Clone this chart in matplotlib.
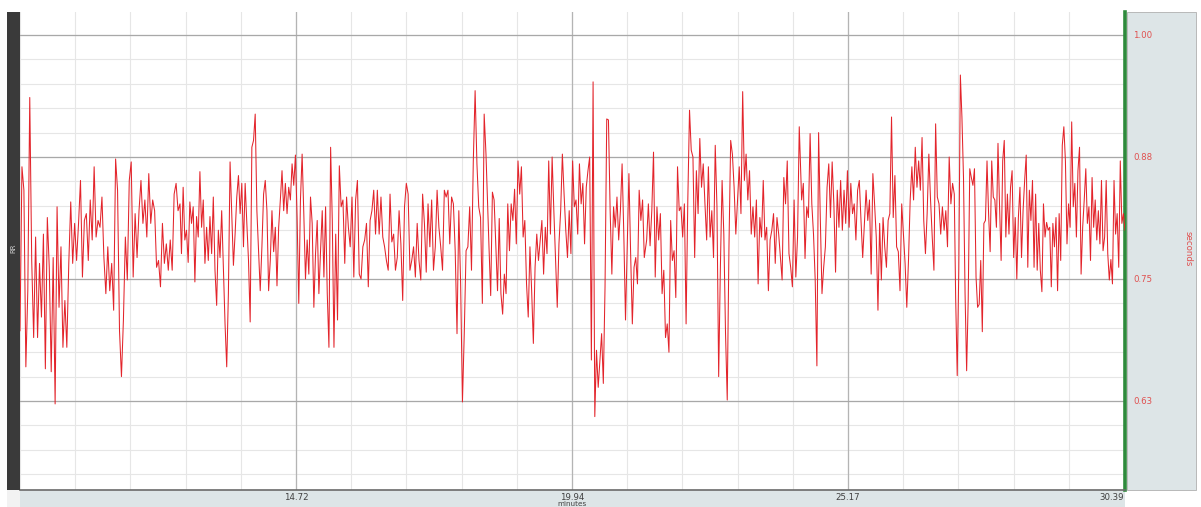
import numpy as np
import matplotlib
matplotlib.use("Agg")
import matplotlib.pyplot as plt
from matplotlib.patches import Rectangle

# ---------------- data (RR interval, seconds) ----------------
seg_bounds = [9.497, 12.525, 12.553, 15.439, 15.472, 18.316, 18.373, 21.312,
              21.357, 24.245, 24.290, 27.179, 27.205, 30.41]

rr_seg1 = [0.697, 0.865, 0.841, 0.66, 0.738, 0.936, 0.769, 0.69, 0.793, 0.69, 0.766, 0.711, 0.796,
           0.658, 0.813, 0.762, 0.655, 0.772, 0.622, 0.824, 0.721, 0.783, 0.68, 0.728, 0.68, 0.766,
           0.829, 0.766, 0.807, 0.769, 0.807, 0.851, 0.752, 0.81, 0.817, 0.769, 0.831, 0.79, 0.865,
           0.793, 0.81, 0.803, 0.834, 0.772, 0.735, 0.783, 0.738, 0.766, 0.718, 0.873, 0.841, 0.697,
           0.65, 0.708, 0.793, 0.749, 0.851, 0.87, 0.752, 0.817, 0.772, 0.82, 0.851, 0.807, 0.831,
           0.793, 0.858, 0.807, 0.831, 0.82, 0.762, 0.769, 0.742, 0.807, 0.766, 0.786, 0.759, 0.79,
           0.759, 0.837, 0.848, 0.82, 0.827]
rr_seg2 = [0.776, 0.844, 0.79, 0.80, 0.767, 0.829, 0.807, 0.824, 0.747, 0.814, 0.793, 0.86, 0.803,
           0.831, 0.766, 0.803, 0.769, 0.814, 0.776, 0.834, 0.759, 0.723, 0.80, 0.772, 0.82, 0.762,
           0.704, 0.66, 0.735, 0.87, 0.817, 0.764, 0.796, 0.834, 0.856, 0.817, 0.848, 0.783, 0.848,
           0.807, 0.769, 0.706, 0.885, 0.892, 0.919, 0.82, 0.779, 0.738, 0.783, 0.837, 0.851, 0.82,
           0.738, 0.769, 0.82, 0.778, 0.803, 0.743, 0.803, 0.831, 0.861, 0.82, 0.848, 0.817, 0.844,
           0.831, 0.868, 0.846, 0.877, 0.813, 0.725, 0.831, 0.878, 0.817, 0.75, 0.79, 0.755, 0.834,
           0.807, 0.721, 0.776, 0.81, 0.735, 0.779, 0.82, 0.752, 0.824, 0.735, 0.68, 0.885, 0.81, 0.68]
rr_seg3 = [0.796, 0.708, 0.866, 0.824, 0.831, 0.766, 0.834, 0.803, 0.783, 0.834, 0.752, 0.831, 0.851,
           0.755, 0.75, 0.783, 0.79, 0.807, 0.742, 0.81, 0.82, 0.841, 0.796, 0.841, 0.796, 0.834,
           0.793, 0.783, 0.769, 0.759, 0.837, 0.788, 0.796, 0.759, 0.772, 0.82, 0.786, 0.728, 0.824,
           0.848, 0.837, 0.759, 0.769, 0.783, 0.752, 0.807, 0.769, 0.749, 0.837, 0.807, 0.757, 0.827,
           0.783, 0.831, 0.759, 0.783, 0.841, 0.803, 0.783, 0.759, 0.841, 0.834, 0.841, 0.786, 0.834,
           0.827, 0.779, 0.694, 0.82, 0.745, 0.624, 0.694, 0.779, 0.783, 0.824, 0.759, 0.871, 0.943,
           0.868, 0.824, 0.813, 0.725, 0.919, 0.878]
rr_seg4 = [0.783, 0.733, 0.839, 0.831, 0.783, 0.738, 0.812, 0.735, 0.714, 0.755, 0.735, 0.827, 0.779,
           0.827, 0.81, 0.842, 0.786, 0.871, 0.837, 0.865, 0.793, 0.81, 0.745, 0.711, 0.783, 0.738,
           0.684, 0.762, 0.796, 0.769, 0.79, 0.81, 0.755, 0.803, 0.776, 0.871, 0.796, 0.875, 0.82,
           0.769, 0.721, 0.786, 0.82, 0.878, 0.837, 0.80, 0.772, 0.82, 0.776, 0.871, 0.824, 0.831,
           0.796, 0.868, 0.827, 0.848, 0.786, 0.844, 0.861, 0.875, 0.667, 0.952, 0.609, 0.677, 0.639,
           0.667, 0.694, 0.643, 0.742, 0.914, 0.913, 0.82, 0.755, 0.824, 0.803, 0.834, 0.79, 0.82,
           0.868, 0.796, 0.708, 0.783, 0.858, 0.776, 0.704, 0.762, 0.772, 0.745, 0.841, 0.81, 0.831,
           0.772]
rr_seg5 = [0.79, 0.827, 0.784, 0.82, 0.88, 0.752, 0.824, 0.79, 0.817, 0.735, 0.759, 0.69, 0.704,
           0.675, 0.81, 0.769, 0.779, 0.731, 0.865, 0.82, 0.824, 0.793, 0.827, 0.704, 0.831, 0.923,
           0.882, 0.875, 0.772, 0.861, 0.817, 0.894, 0.844, 0.868, 0.827, 0.79, 0.865, 0.793, 0.82,
           0.772, 0.887, 0.824, 0.65, 0.762, 0.851, 0.796, 0.694, 0.626, 0.783, 0.892, 0.878, 0.844,
           0.796, 0.831, 0.865, 0.817, 0.942, 0.851, 0.878, 0.831, 0.861, 0.796, 0.824, 0.793, 0.831,
           0.745, 0.813, 0.793, 0.851, 0.79, 0.803, 0.738, 0.79, 0.80, 0.817, 0.766, 0.813, 0.796,
           0.772, 0.749, 0.854, 0.827, 0.871, 0.776, 0.762, 0.742, 0.831, 0.752, 0.793, 0.906]
rr_seg6 = [0.831, 0.848, 0.771, 0.824, 0.813, 0.899, 0.827, 0.796, 0.749, 0.661, 0.90, 0.813, 0.735,
           0.762, 0.783, 0.844, 0.868, 0.813, 0.87, 0.827, 0.757, 0.841, 0.803, 0.851, 0.80, 0.841,
           0.807, 0.861, 0.803, 0.848, 0.817, 0.827, 0.79, 0.841, 0.851, 0.81, 0.772, 0.807, 0.841,
           0.81, 0.831, 0.755, 0.858, 0.827, 0.793, 0.718, 0.807, 0.749, 0.813, 0.783, 0.762, 0.81,
           0.817, 0.916, 0.813, 0.856, 0.783, 0.778, 0.738, 0.827, 0.796, 0.766, 0.721, 0.769, 0.831,
           0.865, 0.831, 0.885, 0.844, 0.871, 0.841, 0.895, 0.81, 0.776, 0.817, 0.878, 0.831, 0.793,
           0.759, 0.909, 0.834, 0.827, 0.796, 0.824, 0.80, 0.82, 0.783, 0.875, 0.827, 0.848, 0.837]
rr_seg7 = [0.731, 0.651, 0.76, 0.959, 0.916, 0.854, 0.735, 0.656, 0.728, 0.863, 0.854, 0.846, 0.863,
           0.752, 0.721, 0.724, 0.769, 0.696, 0.807, 0.81, 0.871, 0.817, 0.778, 0.871, 0.834, 0.831,
           0.803, 0.889, 0.824, 0.769, 0.871, 0.892, 0.793, 0.837, 0.796, 0.844, 0.861, 0.772, 0.813,
           0.75, 0.813, 0.844, 0.772, 0.82, 0.851, 0.877, 0.762, 0.841, 0.81, 0.851, 0.762, 0.837,
           0.759, 0.807, 0.759, 0.737, 0.827, 0.793, 0.808, 0.80, 0.803, 0.742, 0.807, 0.783, 0.813,
           0.738, 0.817, 0.769, 0.887, 0.906, 0.871, 0.786, 0.827, 0.803, 0.911, 0.824, 0.848, 0.793,
           0.861, 0.885, 0.755, 0.803, 0.831, 0.863, 0.807, 0.824, 0.769, 0.854, 0.803, 0.831, 0.79,
           0.82, 0.786, 0.851, 0.779, 0.793, 0.851, 0.776, 0.749, 0.77, 0.745, 0.851, 0.796, 0.817,
           0.762, 0.871, 0.807, 0.817, 0.80]

x_ticks = [14.72, 19.94, 25.17, 30.39]
x_ticklabels = ["14.72", "19.94", "25.17", "30.39"]
y_ticks = [1.0, 0.875, 0.75, 0.625]
y_ticklabels = ["1.00", "0.88", "0.75", "0.63"]
x_label = "minutes"
y_label_left = "RR"
y_label_right = "seconds"

# ---------------- build series ----------------
segs = [rr_seg1, rr_seg2, rr_seg3, rr_seg4, rr_seg5, rr_seg6, rr_seg7]
t_parts, v_parts = [], []
for i, s in enumerate(segs):
    t_parts.append(np.linspace(seg_bounds[2 * i], seg_bounds[2 * i + 1], len(s)))
    v_parts.append(np.array(s))
t = np.concatenate(t_parts)
rr = np.concatenate(v_parts)

# ---------------- figure ----------------
W, H = 1201, 507
fig = plt.figure(figsize=(W / 100, H / 100), dpi=100)
fig.patch.set_facecolor("white")

def fx(px):
    return px / W

def fy(py):
    return 1 - py / H

panel_col = "#dde5e7"

# background patches in figure coords
fig.add_artist(Rectangle((fx(7), fy(507)), fx(13), (507 - 490) / H, transform=fig.transFigure,
                         facecolor="#f2f2f2", edgecolor="none", zorder=0))
fig.add_artist(Rectangle((fx(20), fy(507)), fx(1105), (507 - 490) / H, transform=fig.transFigure,
                         facecolor=panel_col, edgecolor="none", zorder=0))
fig.add_artist(Rectangle((fx(7), fy(490)), fx(13), 478 / H, transform=fig.transFigure,
                         facecolor="#3a3a3a", edgecolor="none", zorder=1))
fig.add_artist(Rectangle((fx(1127), fy(490)), fx(69), 478 / H, transform=fig.transFigure,
                         facecolor=panel_col, edgecolor="#b0b0b0", linewidth=0.6, zorder=0))

# main axes
x0, x1 = 9.497, 30.41
y0, y1 = 0.5338, 1.0236
ax = fig.add_axes([fx(20), fy(490), fx(1105), 478 / H])
ax.set_xlim(x0, x1)
ax.set_ylim(y0, y1)
ax.set_facecolor("white")

minor_x = np.arange(x_ticks[0] - 5 * 1.04466, x1, 1.04466)
for xv in minor_x:
    ax.axvline(xv, color="#e6e6e6", lw=0.8, zorder=1)
for xv in x_ticks[:-1]:
    ax.axvline(xv, color="#b4b4b4", lw=0.9, zorder=1.5)
minor_y = np.arange(0.55, 1.02, 0.025)
for yv in minor_y:
    ax.axhline(yv, color="#e6e6e6", lw=0.8, zorder=1)
for yv in y_ticks:
    ax.axhline(yv, color="#a8a8a8", lw=0.9, zorder=1.5)

ax.plot(t, rr, color="#e3242b", lw=0.75, zorder=3)

for sp in ["top", "left"]:
    ax.spines[sp].set_visible(False)
ax.spines["right"].set_color("#2e8a3c")
ax.spines["right"].set_linewidth(2.6)
ax.spines["bottom"].set_color("#6a6a6a")
ax.spines["bottom"].set_linewidth(1.2)

ax.set_yticks([])
ax.set_xticks(x_ticks)
ax.set_xticklabels(x_ticklabels)
ax.tick_params(axis="x", length=0, pad=2.0, labelsize=6.2, labelcolor="#404040")
labels = ax.get_xticklabels()
labels[-1].set_horizontalalignment("right")

# right axis labels
for yv, lab in zip(y_ticks, y_ticklabels):
    fig.text(fx(1133), fy(35 + (1.0 - yv) / 0.125 * 122), lab, ha="left", va="center",
             fontsize=6.2, color="#e0504f")
fig.text(fx(1188), fy(249), y_label_right, rotation=270, ha="center", va="center",
         fontsize=6.2, color="#e0504f")

# left label
fig.text(fx(13.5), fy(248), y_label_left, rotation=90, ha="center", va="center",
         fontsize=5, color="#cfcfcf")

# x-axis title at the very bottom of the strip
fig.text(fx(572), fy(506.5), x_label, ha="center", va="bottom", fontsize=5.2, color="#404040")

fig.savefig("out.png", dpi=100, facecolor="white")
